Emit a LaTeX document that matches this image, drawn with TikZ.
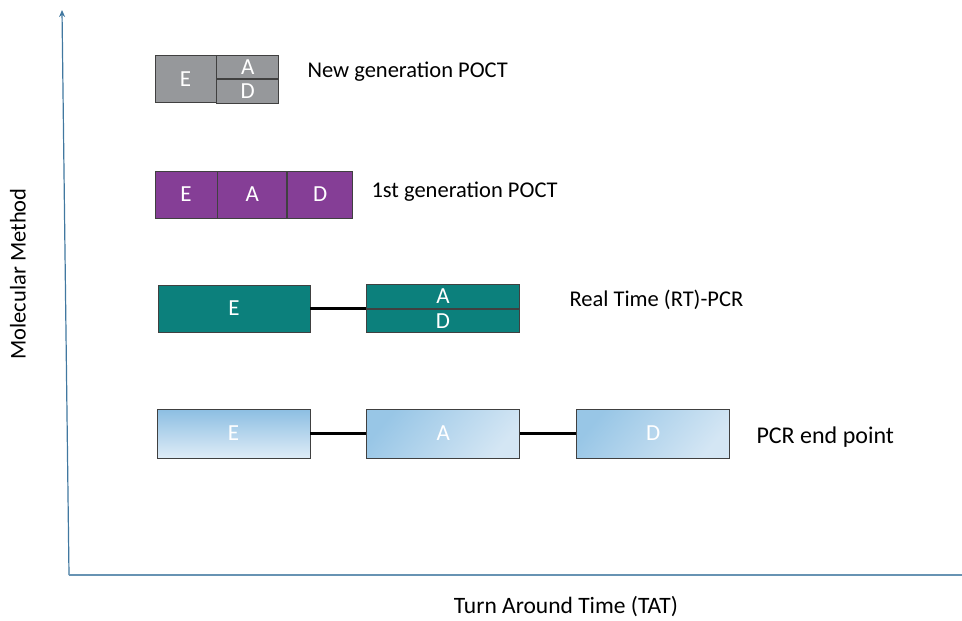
\documentclass[tikz,border=0pt]{standalone}
\usepackage{fontspec}
\setmainfont{Carlito}
\usetikzlibrary{positioning,arrows.meta}

\definecolor{pocgrey}{RGB}{150,152,155}
\definecolor{pocpurple}{RGB}{133,62,150}
\definecolor{rtteal}{RGB}{12,128,124}
\definecolor{pcrdark}{RGB}{140,190,226}
\definecolor{pcrmid}{RGB}{152,198,230}
\definecolor{pcrlight}{RGB}{222,236,247}
\definecolor{pcrpale}{RGB}{212,230,244}
\definecolor{axisblue}{RGB}{65,120,160}

\begin{document}
\begin{tikzpicture}[x=1pt, y=-1pt, node distance=56pt,
    blk/.style={draw=black!75, line width=0.8pt, minimum height=47pt,
      inner sep=0pt, text=white, font=\fontsize{23}{23}\selectfont},
    half/.style={blk, minimum height=23.5pt},
    pcr/.style={blk, minimum width=153pt, minimum height=49pt},
    lbl/.style={anchor=west, font=\fontsize{22.5}{22.5}\selectfont},
    link/.style={line width=3pt}]
    \useasboundingbox (0,0) rectangle (962,621);

    % axes
    \coordinate (origin) at (69,575);
    \coordinate (ytop) at (62,10);
    \coordinate (xend) at (962,575);
    \draw[axisblue, line width=1.2pt, -{Stealth[length=7pt,width=6pt]}] (origin) -- (ytop);
    \draw[axisblue!80, line width=1.5pt] (origin) -- (xend);
    \node[rotate=90, font=\fontsize{22.5}{22.5}\selectfont] (ylab) at (18,274) {Molecular Method};
    \node[font=\fontsize{23.5}{23.5}\selectfont] (xlab) at (566,607) {Turn Around Time (TAT)};

    % new generation POCT
    \node[blk, fill=pocgrey, minimum width=61pt] (ng-e) at (185.5,79) {E};
    \node[half, fill=pocgrey, minimum width=62pt, anchor=south west] (ng-a) at (ng-e.east) {A};
    \node[half, fill=pocgrey, minimum width=62pt, anchor=north west] (ng-d) at (ng-e.east) {D};
    \node[lbl] (ng-lbl) at (304,72) {New generation POCT};

    % 1st generation POCT
    \node[blk, fill=pocpurple, minimum width=62pt] (fg-e) at (186,194.5) {E};
    \node[blk, fill=pocpurple, minimum width=69pt, right=0pt of fg-e] (fg-a) {A};
    \node[blk, fill=pocpurple, minimum width=65pt, right=0pt of fg-a] (fg-d) {D};
    \node[lbl] (fg-lbl) at (368,192) {1st generation POCT};

    % real time PCR
    \node[blk, fill=rtteal, minimum width=152pt] (rt-e) at (234,308.5) {E};
    \node[half, fill=rtteal, minimum width=153pt, anchor=south west] (rt-a) at (366,308.5) {A};
    \node[half, fill=rtteal, minimum width=153pt, anchor=north west] (rt-d) at (366,308.5) {D};
    \node[lbl] (rt-lbl) at (566,300) {Real Time (RT)-PCR};
    \draw[link] (rt-e) -- (rt-a.south west);

    % PCR end point
    \node[pcr, top color=pcrdark, bottom color=pcrlight] (ep-e) at (233.5,433.5) {E};
    \node[pcr, top color=pcrmid, bottom color=pcrpale, shading angle=50, right=of ep-e] (ep-a) {A};
    \node[pcr, top color=pcrmid, bottom color=pcrpale, shading angle=50, right=of ep-a] (ep-d) {D};
    \node[lbl, font=\fontsize{24}{24}\selectfont] (ep-lbl) at (753,437) {PCR end point};
    \draw[line width=2.5pt] (ep-e) -- (ep-a);
    \draw[line width=3.5pt] (ep-a) -- (ep-d);
\end{tikzpicture}
\end{document}
